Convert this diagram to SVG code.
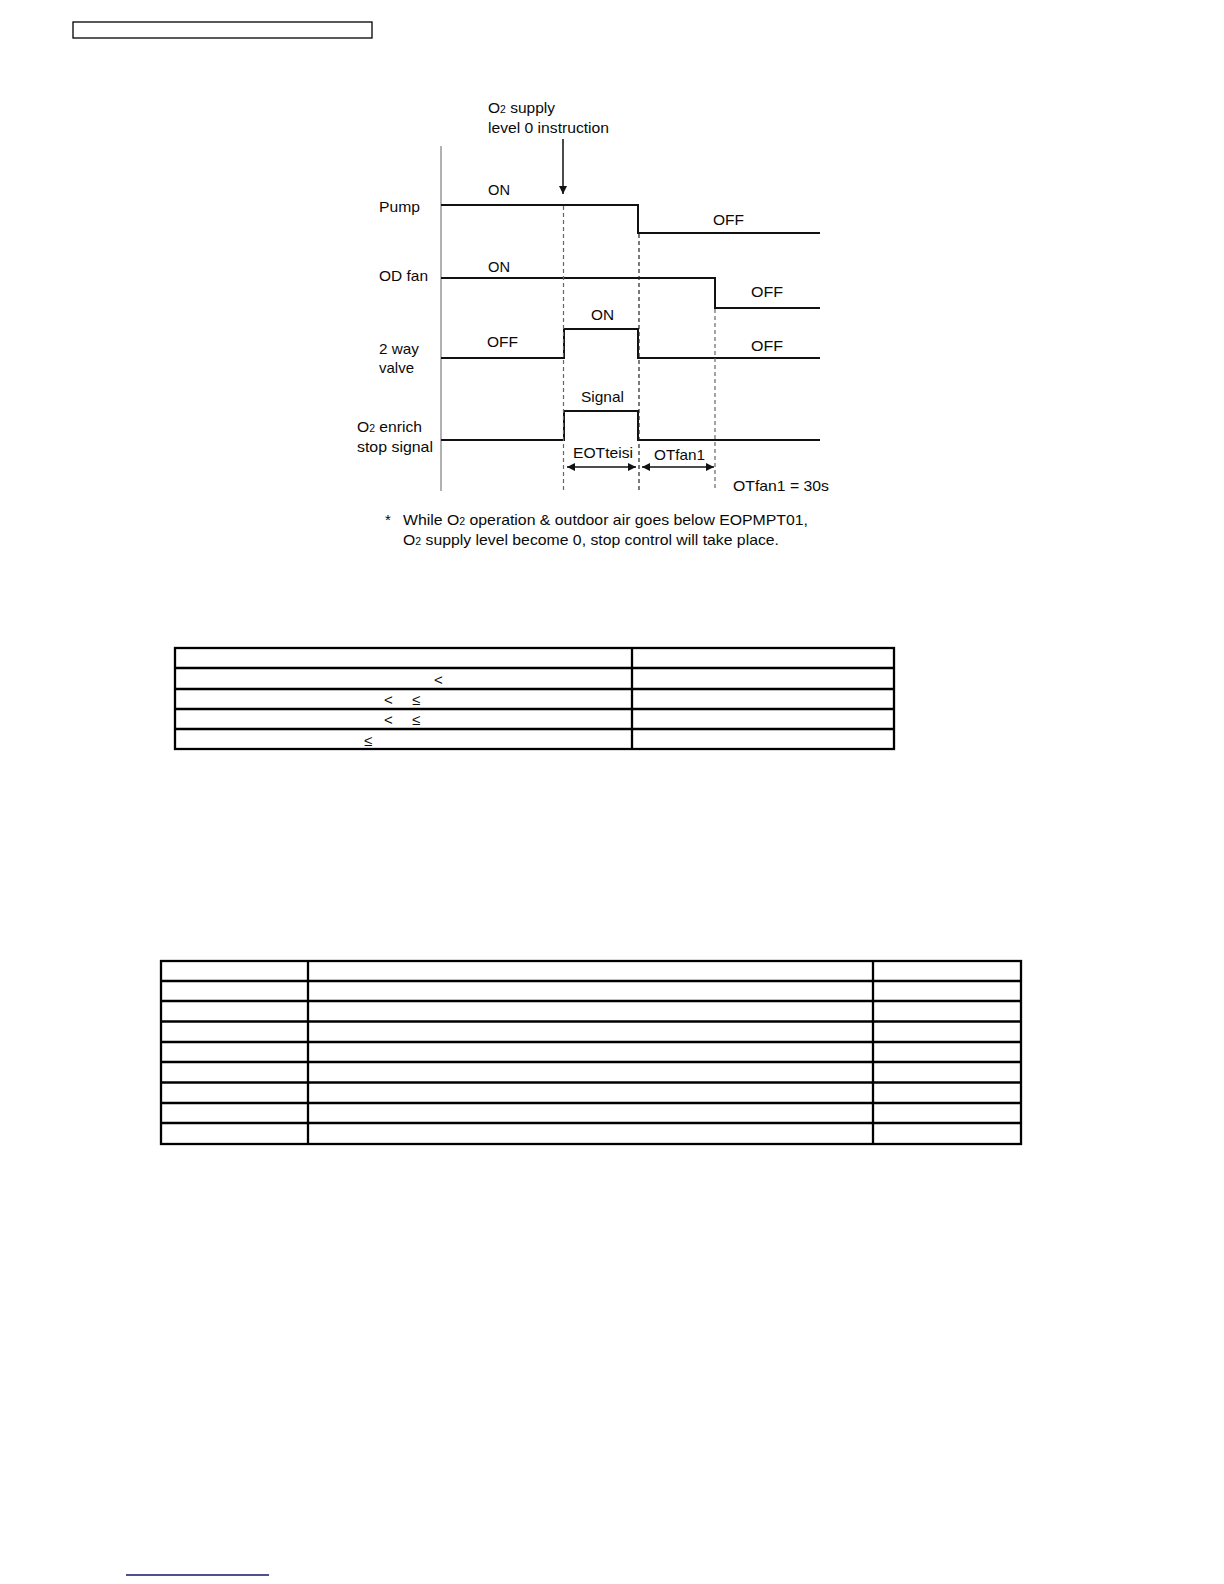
<svg xmlns="http://www.w3.org/2000/svg" width="1224" height="1584" viewBox="0 0 1224 1584">
<style>
text{font-family:"Liberation Sans",Arial,Helvetica,sans-serif;font-size:15px;fill:#0a0a0a}
.sub{font-size:10px}
.sym{font-size:15px}
.wave{fill:none;stroke:#111;stroke-width:2;stroke-linejoin:miter}
.dash{fill:none;stroke:#222;stroke-width:1.2;stroke-dasharray:4 3}
.dashg{fill:none;stroke:#666;stroke-width:1.2;stroke-dasharray:4 3}
.axis{stroke:#888;stroke-width:1.3;fill:none}
.tbl{fill:none;stroke:#000;stroke-width:2.3}
.arr{stroke:#111;stroke-width:1.5;fill:none}
</style>
<defs>
<marker id="ah" viewBox="0 0 10 10" refX="10" refY="5" markerWidth="11" markerHeight="8" markerUnits="userSpaceOnUse" orient="auto-start-reverse">
<path d="M0,0 L10,5 L0,10 z" fill="#111"/>
</marker>
<marker id="ahd" viewBox="0 0 10 10" refX="10" refY="5" markerWidth="12" markerHeight="8" markerUnits="userSpaceOnUse" orient="auto-start-reverse">
<path d="M0,0 L10,5 L0,10 z" fill="#111"/>
</marker>
</defs>
<rect width="1224" height="1584" fill="#fff"/>

<rect id="header-box" x="73" y="22" width="299" height="16" fill="none" stroke="#000" stroke-width="1.3"/>

<g id="axis">
<line class="axis" x1="441" y1="146" x2="441" y2="491"/>
</g>

<g id="instruction">
<text x="488" y="113" textLength="67" lengthAdjust="spacingAndGlyphs">O<tspan class="sub">2</tspan> supply</text>
<text x="488" y="133" textLength="121" lengthAdjust="spacingAndGlyphs">level 0 instruction</text>
</g>

<g id="pump">
<text x="379" y="212" textLength="41" lengthAdjust="spacingAndGlyphs">Pump</text>
<text x="488" y="195" textLength="22" lengthAdjust="spacingAndGlyphs">ON</text>
<text x="713" y="225" textLength="31" lengthAdjust="spacingAndGlyphs">OFF</text>
<polyline class="wave" points="441,205 638,205 638,233 820,233"/>
</g>

<g id="od-fan">
<text x="379" y="281" textLength="49" lengthAdjust="spacingAndGlyphs">OD fan</text>
<text x="488" y="272" textLength="22" lengthAdjust="spacingAndGlyphs">ON</text>
<text x="751" y="297" textLength="32" lengthAdjust="spacingAndGlyphs">OFF</text>
<polyline class="wave" points="441,278 715,278 715,308 820,308"/>
</g>

<g id="two-way-valve">
<text x="379" y="354" textLength="40" lengthAdjust="spacingAndGlyphs">2 way</text>
<text x="379" y="373" textLength="35" lengthAdjust="spacingAndGlyphs">valve</text>
<text x="487" y="347" textLength="31" lengthAdjust="spacingAndGlyphs">OFF</text>
<text x="591" y="320" textLength="23" lengthAdjust="spacingAndGlyphs">ON</text>
<text x="751" y="351" textLength="32" lengthAdjust="spacingAndGlyphs">OFF</text>
<polyline class="wave" points="441,358 564,358 564,329 638,329 638,358 820,358"/>
</g>

<g id="o2-enrich-stop-signal">
<text x="357" y="432" textLength="65" lengthAdjust="spacingAndGlyphs">O<tspan class="sub">2</tspan> enrich</text>
<text x="357" y="452" textLength="76" lengthAdjust="spacingAndGlyphs">stop signal</text>
<text x="581" y="402" textLength="43" lengthAdjust="spacingAndGlyphs">Signal</text>
<polyline class="wave" points="441,440 564,440 564,411 638,411 638,440 820,440"/>
</g>

<g id="timing">
<text x="573" y="458" textLength="60" lengthAdjust="spacingAndGlyphs">EOTteisi</text>
<text x="654" y="460" textLength="51" lengthAdjust="spacingAndGlyphs">OTfan1</text>
<text x="733" y="491" textLength="96" lengthAdjust="spacingAndGlyphs">OTfan1 = 30s</text>
</g>

<g id="connectors">
<line class="dashg" x1="563.5" y1="206" x2="563.5" y2="491"/>
<line class="dash" x1="639" y1="234" x2="639" y2="491"/>
<line class="dashg" x1="715" y1="309" x2="715" y2="491"/>
<line class="arr" x1="563" y1="139" x2="563" y2="194" marker-end="url(#ah)"/>
<line class="arr" x1="567" y1="467" x2="636" y2="467" marker-start="url(#ahd)" marker-end="url(#ahd)"/>
<line class="arr" x1="642" y1="467" x2="714" y2="467" marker-start="url(#ahd)" marker-end="url(#ahd)"/>
</g>

<g id="footnote">
<text x="385" y="525">*</text>
<text x="403" y="525" textLength="405" lengthAdjust="spacingAndGlyphs">While O<tspan class="sub">2</tspan> operation &amp; outdoor air goes below EOPMPT01,</text>
<text x="403" y="545" textLength="376" lengthAdjust="spacingAndGlyphs">O<tspan class="sub">2</tspan> supply level become 0, stop control will take place.</text>
</g>

<g id="table-1">
<rect class="tbl" x="175" y="648" width="719" height="101"/>
<line class="tbl" x1="632" y1="648" x2="632" y2="749"/>
<line class="tbl" x1="175" y1="668" x2="894" y2="668"/>
<line class="tbl" x1="175" y1="689" x2="894" y2="689"/>
<line class="tbl" x1="175" y1="709" x2="894" y2="709"/>
<line class="tbl" x1="175" y1="729" x2="894" y2="729"/>
<text class="sym" x="434" y="685">&lt;</text>
<text class="sym" x="384" y="705">&lt;</text>
<text class="sym" x="412" y="705">≤</text>
<text class="sym" x="384" y="725">&lt;</text>
<text class="sym" x="412" y="725">≤</text>
<text class="sym" x="364" y="746">≤</text>
</g>

<g id="table-2">
<rect class="tbl" x="161" y="961" width="860" height="183"/>
<line class="tbl" x1="308" y1="961" x2="308" y2="1144"/>
<line class="tbl" x1="873" y1="961" x2="873" y2="1144"/>
<line class="tbl" x1="161" y1="981" x2="1021" y2="981"/>
<line class="tbl" x1="161" y1="1001" x2="1021" y2="1001"/>
<line class="tbl" x1="161" y1="1021.5" x2="1021" y2="1021.5"/>
<line class="tbl" x1="161" y1="1042" x2="1021" y2="1042"/>
<line class="tbl" x1="161" y1="1062" x2="1021" y2="1062"/>
<line class="tbl" x1="161" y1="1082.5" x2="1021" y2="1082.5"/>
<line class="tbl" x1="161" y1="1103" x2="1021" y2="1103"/>
<line class="tbl" x1="161" y1="1123" x2="1021" y2="1123"/>
</g>

<line id="footer-link" x1="126" y1="1575" x2="269" y2="1575" stroke="#14146e" stroke-width="1.4"/>
</svg>
